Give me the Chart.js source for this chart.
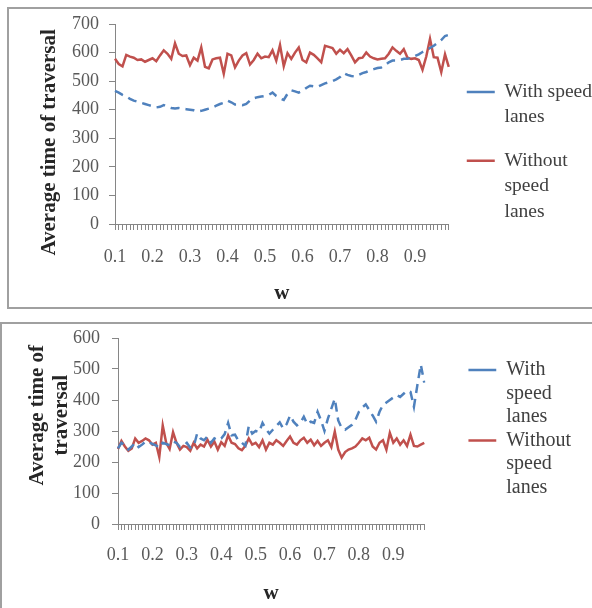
<!DOCTYPE html>
<html>
<head>
<meta charset="utf-8">
<script src="https://cdn.jsdelivr.net/npm/chart.js@4.4.0/dist/chart.umd.min.js"></script>
<style>
  html, body { margin: 0; padding: 0; background: #fff; overflow: hidden; width: 592px; height: 608px; }
  .box { position: absolute; border: 2px solid #a0a0a0; background: #fff; overflow: hidden; }
  #box1 { left: 7px; top: 7px; width: 600px; height: 298px; }
  #box2 { left: 0px; top: 322px; width: 600px; height: 300px; }
  canvas { position: absolute; left: 0; top: 0; }
</style>
</head>
<body>
<div class="box" id="box1"><canvas id="chart1" width="600" height="298"></canvas></div>
<div class="box" id="box2"><canvas id="chart2" width="590" height="290"></canvas></div>
<script>
// w from 0.10 to 0.99
const categories = [
  "0.10","0.11","0.12","0.13","0.14","0.15","0.16","0.17","0.18","0.19",
  "0.20","0.21","0.22","0.23","0.24","0.25","0.26","0.27","0.28","0.29",
  "0.30","0.31","0.32","0.33","0.34","0.35","0.36","0.37","0.38","0.39",
  "0.40","0.41","0.42","0.43","0.44","0.45","0.46","0.47","0.48","0.49",
  "0.50","0.51","0.52","0.53","0.54","0.55","0.56","0.57","0.58","0.59",
  "0.60","0.61","0.62","0.63","0.64","0.65","0.66","0.67","0.68","0.69",
  "0.70","0.71","0.72","0.73","0.74","0.75","0.76","0.77","0.78","0.79",
  "0.80","0.81","0.82","0.83","0.84","0.85","0.86","0.87","0.88","0.89",
  "0.90","0.91","0.92","0.93","0.94","0.95","0.96","0.97","0.98","0.99"
];
const tickLabels = ["0.1", "0.2", "0.3", "0.4", "0.5", "0.6", "0.7", "0.8", "0.9"];

// top chart
const withLanes1 = [
  466, 460, 452, 446, 438, 432, 428, 424, 420, 416,
  412, 408, 410, 416, 410, 406, 404, 406, 404, 402,
  400, 398, 394, 396, 400, 404, 408, 414, 420, 424,
  432, 426, 418, 418, 416, 420, 432, 440, 444, 446,
  448, 452, 460, 448, 440, 434, 456, 468, 464, 460,
  466, 476, 484, 482, 480, 486, 492, 496, 500, 506,
  514, 528, 522, 518, 516, 522, 528, 532, 538, 542,
  546, 548, 556, 566, 572, 572, 574, 578, 578, 582,
  588, 594, 602, 608, 616, 624, 634, 644, 658, 662
];
const withoutLanes1 = [
  578, 560, 552, 592, 586, 582, 574, 576, 568, 574,
  580, 570, 590, 608, 596, 578, 632, 596, 588, 590,
  556, 582, 572, 618, 550, 545, 576, 580, 582, 526,
  596, 590, 548, 572, 590, 598, 558, 574, 596, 580,
  586, 584, 608, 572, 626, 552, 598, 578, 600, 618,
  574, 566, 600, 592, 580, 566, 624, 620, 616, 596,
  610, 598, 612, 590, 566, 580, 582, 600, 586, 580,
  576, 578, 580, 596, 618, 606, 596, 612, 582, 578,
  580, 574, 540, 586, 648, 584, 582, 532, 594, 550
];

// bottom chart
const withLanes2 = [
  244, 262, 254, 240, 250, 262, 248, 256, 266, 264,
  258, 254, 246, 262, 258, 254, 266, 262, 248, 252,
  262, 246, 250, 292, 276, 270, 282, 262, 276, 270,
  276, 290, 326, 286, 288, 268, 262, 252, 316, 292,
  300, 296, 326, 306, 292, 304, 316, 328, 308, 322,
  350, 330, 318, 326, 346, 322, 330, 326, 362, 334,
  300, 340, 372, 404, 334, 310, 304, 312, 320, 336,
  362, 376, 386, 368, 350, 330, 362, 384, 392, 400,
  408, 416, 410, 420, 430, 426, 378, 448, 514, 456
];
const withoutLanes2 = [
  242, 268, 250, 236, 244, 276, 262, 268, 276, 270,
  256, 262, 216, 318, 262, 242, 296, 262, 240, 252,
  248, 236, 262, 244, 256, 250, 272, 250, 266, 240,
  264, 252, 286, 262, 258, 244, 238, 252, 276, 256,
  262, 248, 270, 240, 262, 256, 270, 262, 252, 268,
  282, 262, 256, 270, 278, 262, 272, 254, 268, 252,
  262, 270, 248, 298, 240, 214, 232, 240, 244, 250,
  262, 276, 270, 278, 250, 240, 262, 270, 240, 294,
  262, 276, 256, 270, 252, 288, 252, 250, 256, 262
];

const legendText1 = [["With speed", "lanes"], ["Without", "speed", "lanes"]];
const legendText2 = [["With", "speed", "lanes"], ["Without", "speed", "lanes"]];

const BLUE = "#4F81BD";
const RED = "#C0504D";
const AXIS = "#868686";
const SERIF = "'Liberation Serif', 'Times New Roman', serif";
const NB = "\u00a0";

function buildChart(canvasId, withData, withoutData, yMax, yTitle, legendText, L) {
  const scales = {
    x: {
      type: "category",
      offset: false,
      grid: { display: true, drawOnChartArea: false, tickLength: 6, color: AXIS },
      border: { color: AXIS, width: 1 },
      ticks: {
        autoSkip: false,
        maxRotation: 0,
        minRotation: 0,
        padding: L.xTickPad,
        color: "#595959",
        font: { family: SERIF, size: 18 },
        callback: function (v) {
          const t = String(Number(this.getLabelForValue(v)));
          return tickLabels.includes(t) ? t : "";
        }
      },
      title: {
        display: true,
        text: "w",
        color: "#262626",
        font: { family: SERIF, size: 21, weight: "bold", lineHeight: L.xTitleLH },
        padding: { top: L.xTitleTop, bottom: L.xTitleBottom }
      }
    },
    y: {
      min: 0,
      max: yMax,
      grid: { display: true, drawOnChartArea: false, tickLength: 6, color: AXIS },
      border: { color: AXIS, width: 1 },
      ticks: {
        stepSize: 100,
        padding: L.yTickPad,
        color: "#595959",
        font: { family: SERIF, size: 18, lineHeight: L.yTickLH }
      },
      title: {
        display: true,
        text: yTitle,
        color: "#262626",
        font: { family: SERIF, size: 21, weight: "bold", lineHeight: 1.143 },
        padding: { top: L.yTitleTop, bottom: 0 }
      },
      afterFit: function (s) { if (L.yWidth) s.width = L.yWidth; }
    }
  };
  if (L.gap) {
    scales.gap = {
      type: "linear",
      position: "right",
      display: true,
      grid: { display: false },
      border: { display: false },
      ticks: { display: false },
      afterFit: function (s) { s.width = L.gap; }
    };
  }

  return new Chart(document.getElementById(canvasId), {
    type: "line",
    data: {
      labels: categories,
      datasets: [
        {
          label: "With speed lanes",
          data: withData,
          borderColor: BLUE,
          backgroundColor: BLUE,
          borderWidth: 2.5,
          borderDash: [9, 6],
          pointRadius: 0,
          tension: 0,
          fill: false
        },
        {
          label: "Without speed lanes",
          data: withoutData,
          borderColor: RED,
          backgroundColor: RED,
          borderWidth: 2.5,
          pointRadius: 0,
          tension: 0,
          fill: false
        }
      ]
    },
    options: {
      responsive: false,
      animation: false,
      devicePixelRatio: 1,
      layout: { padding: L.pad },
      scales: scales,
      plugins: {
        tooltip: { enabled: false },
        legend: {
          position: "right",
          align: "start",
          maxWidth: 300,
          title: {
            display: true,
            text: "",
            font: { size: 10, lineHeight: 1 },
            padding: { top: 0, bottom: L.legendSpacer }
          },
          labels: {
            usePointStyle: true,
            pointStyle: "line",
            pointStyleWidth: 28,
            padding: L.legendPad,
            color: "#404040",
            font: { family: SERIF, size: L.legendSize, lineHeight: L.legendLH },
            generateLabels: function (chart) {
              const items = Chart.defaults.plugins.legend.labels.generateLabels(chart);
              items.forEach(function (it, i) { it.text = legendText[i]; });
              return items;
            }
          }
        }
      }
    }
  });
}

buildChart("chart1", withLanes1, withoutLanes1, 700,
  "Average time of traversal" + NB.repeat(7), legendText1, {
    pad: { left: 20, top: 15, right: 7, bottom: 0 },
    xTickPad: 16, xTitleTop: 2, xTitleBottom: 4.6, xTitleLH: 0.8,
    yTickPad: 10, yTickLH: 0.5, yTitleTop: 9, yWidth: 0,
    legendSize: 19.5, legendPad: 18, legendLH: 1.3, legendSpacer: 30.25, gap: 0
  });

buildChart("chart2", withLanes2, withoutLanes2, 600,
  [NB.repeat(6) + "Average time of", NB.repeat(6) + "traversal"], legendText2, {
    pad: { left: 14, top: 14, right: 11, bottom: 7.5 },
    xTickPad: 14, xTitleTop: 3.9, xTitleBottom: 2, xTitleLH: 1,
    yTickPad: 12, yTickLH: 0.2, yTitleTop: 10, yWidth: 102,
    legendSize: 20, legendPad: 0, legendLH: 1.175, legendSpacer: 12, gap: 44
  });
</script>
</body>
</html>
